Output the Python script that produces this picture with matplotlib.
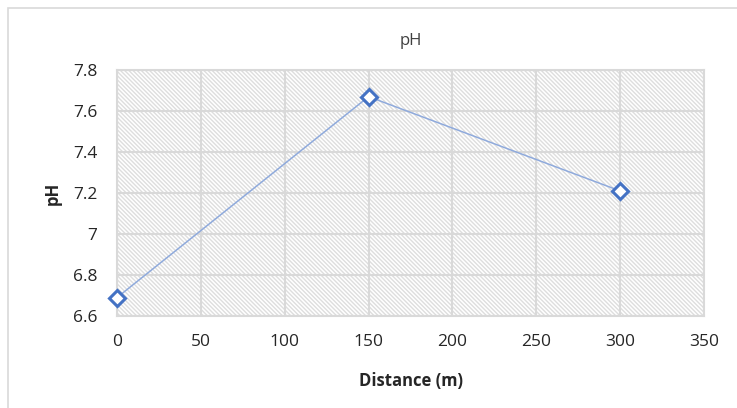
import matplotlib
matplotlib.use("Agg")
import matplotlib.pyplot as plt
from matplotlib.patches import Rectangle

# sampling distance (m) and measured pH
distance = [0, 150, 300]
ph = [6.69, 7.67, 7.21]

x_ticks = [0, 50, 100, 150, 200, 250, 300, 350]
y_ticks = [6.6, 6.8, 7.0, 7.2, 7.4, 7.6, 7.8]
y_labels = ["6.6", "6.8", "7", "7.2", "7.4", "7.6", "7.8"]

plt.rcParams['font.family'] = ['Open Sans', 'DejaVu Sans']
plt.rcParams['hatch.linewidth'] = 1.0

fig = plt.figure(figsize=(7.37, 4.08), dpi=100)
ax = fig.add_axes([117/737, 1 - 316/408, (704 - 117)/737, (316 - 70)/408])

# outer chart border
fig.patches.append(Rectangle((8/737, -0.05), 1.0, 1 - 8/408 + 0.05, transform=fig.transFigure,
                             fill=False, edgecolor='#d9d9d9', linewidth=1.2))

ax.set_facecolor('white')
# hatched plot area
ax.add_patch(Rectangle((0, 0), 1, 1, transform=ax.transAxes, facecolor='white',
                       edgecolor='#dedede', linewidth=0, hatch='\\' * 8, zorder=0))

ax.plot(distance, ph, color='#8faadc', linewidth=1.1, marker='D', markersize=8,
        markerfacecolor='white', markeredgecolor='#4472c4', markeredgewidth=2.2,
        zorder=3, clip_on=False)

ax.set_xlim(0, 350)
ax.set_ylim(6.6, 7.8)
ax.set_xticks(x_ticks)
ax.set_yticks(y_ticks)
ax.set_yticklabels(y_labels)
ax.grid(True, color='#d9d9d9', linewidth=1.5, zorder=1)
ax.set_axisbelow(True)
for s in ax.spines.values():
    s.set_color('#d9d9d9')
    s.set_linewidth(1.5)
ax.tick_params(length=0, labelsize=12.5, colors='#262626')
ax.tick_params(axis='x', pad=13)
ax.tick_params(axis='y', pad=14)

ax.set_title('pH', fontsize=12, color='#404040', pad=18)
ax.set_xlabel('Distance (m)', fontsize=12, fontweight='bold', color='#262626', labelpad=16)
ax.set_ylabel('pH', fontsize=12, fontweight='bold', color='#262626', labelpad=8)

fig.savefig('out.png', dpi=100)
